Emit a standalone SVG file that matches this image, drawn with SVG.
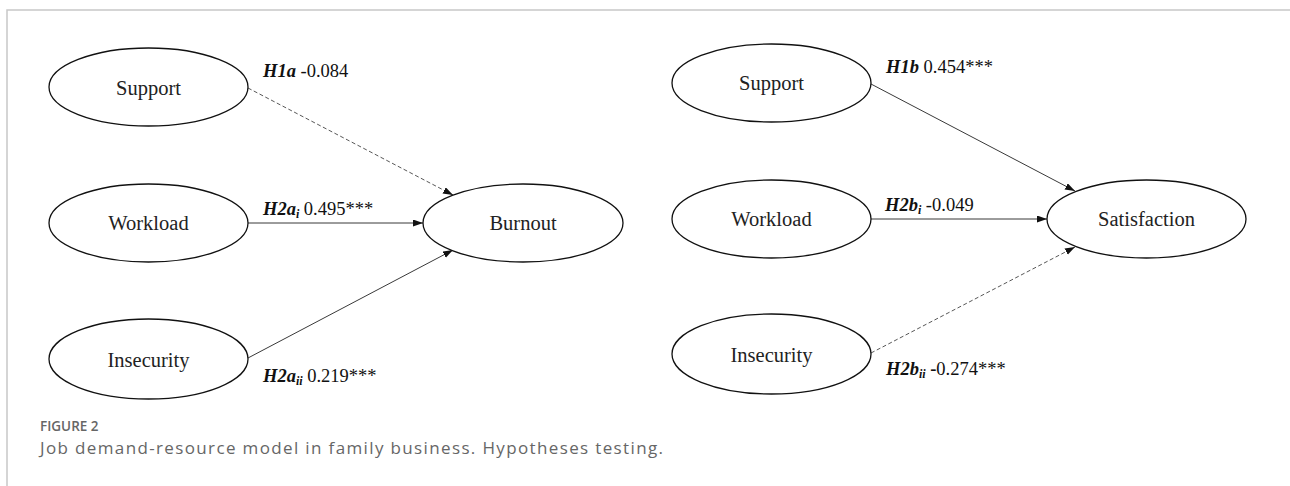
<svg xmlns="http://www.w3.org/2000/svg" width="1290" height="486" viewBox="0 0 1290 486">
<defs>
<style>
.frame{stroke:#c8c8c8;stroke-width:1.5;fill:none}
.node{fill:#fff;stroke:#111;stroke-width:1.3}
.nt{font-family:"Liberation Serif","Times New Roman",serif;font-size:20.5px;fill:#222;text-anchor:middle}
.lbl{font-family:"Liberation Serif","Times New Roman",serif;font-size:18.5px;fill:#111}
.h{font-weight:bold;font-style:italic}
.sub{font-size:12px;font-weight:bold;font-style:italic}
.edge{stroke:#222;stroke-width:0.9;fill:none;marker-end:url(#arr)}
.dash{stroke-dasharray:4 2.5;stroke:#444}
.cap1{font-family:"Open Sans",sans-serif;font-weight:600;font-size:13.5px;fill:#666}
.cap2{font-family:"Open Sans",sans-serif;font-size:17px;fill:#666}
</style>
<marker id="arr" markerUnits="userSpaceOnUse" markerWidth="11" markerHeight="8" refX="10" refY="3.5" orient="auto">
<path d="M0,0 L10,3.5 L0,7 z" fill="#111"/>
</marker>
</defs>
<rect width="1290" height="486" fill="#fff"/>
<path class="frame" d="M7,486 V10 H1290"/>

<g id="connectors">
<path class="edge dash" d="M248,88 L453,195"/>
<path class="edge" d="M248,223 L423,223"/>
<path class="edge" d="M248,358 L453,250"/>
<path class="edge" d="M871,84 L1075,191"/>
<path class="edge" d="M871,219 L1047,219"/>
<path class="edge dash" d="M871,353 L1075,247"/>
</g>

<g id="support-left"><ellipse class="node" cx="148.5" cy="87" rx="99.5" ry="39"/><text class="nt" x="148.5" y="95">Support</text></g>
<g id="workload-left"><ellipse class="node" cx="148.5" cy="223" rx="99.5" ry="39"/><text class="nt" x="148.5" y="230">Workload</text></g>
<g id="insecurity-left"><ellipse class="node" cx="148.5" cy="359" rx="99.5" ry="40"/><text class="nt" x="148.5" y="367">Insecurity</text></g>
<g id="burnout"><ellipse class="node" cx="523" cy="223" rx="100" ry="39"/><text class="nt" x="523" y="230">Burnout</text></g>

<g id="support-right"><ellipse class="node" cx="771.5" cy="83" rx="99.5" ry="39"/><text class="nt" x="771.5" y="90">Support</text></g>
<g id="workload-right"><ellipse class="node" cx="771.5" cy="219" rx="99.5" ry="39"/><text class="nt" x="771.5" y="226">Workload</text></g>
<g id="insecurity-right"><ellipse class="node" cx="771.5" cy="354" rx="99.5" ry="40"/><text class="nt" x="771.5" y="362">Insecurity</text></g>
<g id="satisfaction"><ellipse class="node" cx="1146.5" cy="219" rx="99.5" ry="39"/><text class="nt" x="1146.5" y="226">Satisfaction</text></g>

<g id="labels">
<text class="lbl" x="263" y="77"><tspan class="h">H1a</tspan> -0.084</text>
<text class="lbl" x="263" y="215"><tspan class="h">H2a</tspan><tspan class="sub" dy="3">i</tspan><tspan dy="-3"> 0.495***</tspan></text>
<text class="lbl" x="263" y="382"><tspan class="h">H2a</tspan><tspan class="sub" dy="3">ii</tspan><tspan dy="-3"> 0.219***</tspan></text>
<text class="lbl" x="886" y="73"><tspan class="h">H1b</tspan> 0.454***</text>
<text class="lbl" x="885" y="211"><tspan class="h">H2b</tspan><tspan class="sub" dy="3">i</tspan><tspan dy="-3"> -0.049</tspan></text>
<text class="lbl" x="886" y="375"><tspan class="h">H2b</tspan><tspan class="sub" dy="3">ii</tspan><tspan dy="-3" font-weight="bold"> -</tspan>0.274***</text>
</g>

<text class="cap1" x="40" y="431">FIGURE 2</text>
<text class="cap2" x="40" y="453.5" textLength="623" lengthAdjust="spacing">Job demand-resource model in family business. Hypotheses testing.</text>
</svg>
